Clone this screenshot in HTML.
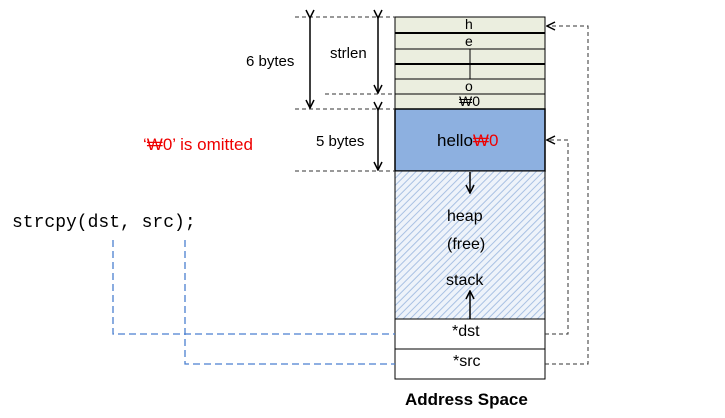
<html><head><style>
body{margin:0;width:725px;height:418px;background:#fff;font-family:"Liberation Sans","Noto Sans CJK KR",sans-serif;position:relative;overflow:hidden}
.t{position:absolute;white-space:nowrap}
</style></head><body>
<svg width="725" height="418" style="position:absolute;left:0;top:0">
<defs>
<pattern id="h" width="5" height="5" patternUnits="userSpaceOnUse" patternTransform="rotate(45)"><rect width="5" height="5" fill="#eef3fa"/><line x1="0" y1="0" x2="0" y2="5" stroke="#a9c1e3" stroke-width="2"/></pattern>
<marker id="a" markerWidth="10" markerHeight="10" refX="9" refY="5" orient="auto" markerUnits="userSpaceOnUse"><path d="M1,1 L9,5 L1,9" fill="none" stroke="#000" stroke-width="1.5"/></marker>
</defs>
<rect x="395" y="17" width="150" height="92" fill="#ebeedf" stroke="#000"/>
<g stroke="#000"><line x1="395" y1="33" x2="545" y2="33" stroke-width="2"/><line x1="395" y1="49" x2="545" y2="49"/><line x1="395" y1="64" x2="545" y2="64" stroke-width="2"/><line x1="395" y1="79" x2="545" y2="79"/><line x1="395" y1="94" x2="545" y2="94"/><line x1="470" y1="49" x2="470" y2="79"/></g>
<rect x="395" y="109" width="150" height="62" fill="#8db0e0" stroke="#000" stroke-width="1.5"/>
<rect x="395" y="171" width="150" height="148" fill="url(#h)" stroke="#000"/>
<rect x="395" y="319" width="150" height="30" fill="#fff" stroke="#000"/>
<rect x="395" y="349" width="150" height="30" fill="#fff" stroke="#000"/>
<g stroke="#000" stroke-width="1.5" marker-end="url(#a)"><line x1="470" y1="172" x2="470" y2="193"/><line x1="470" y1="319" x2="470" y2="291"/></g>
<g stroke="#333" stroke-dasharray="4,3" fill="none"><line x1="295" y1="17" x2="395" y2="17"/><line x1="325" y1="94" x2="395" y2="94"/><line x1="295" y1="109" x2="395" y2="109"/><line x1="295" y1="171" x2="395" y2="171"/>
<polyline points="545,334 568,334 568,140 547,140" marker-end="url(#a)"/><polyline points="545,364 588,364 588,26 547,26" marker-end="url(#a)"/></g>
<g stroke="#000" stroke-width="1.5" marker-start="url(#a)" marker-end="url(#a)"><line x1="310" y1="18" x2="310" y2="108"/><line x1="378" y1="18" x2="378" y2="93"/><line x1="378" y1="110" x2="378" y2="170"/></g>
<g stroke="#4a7fd0" stroke-width="1.3" stroke-dasharray="7,4" fill="none"><polyline points="113,240 113,334 395,334"/><polyline points="185,240 185,364 395,364"/></g>
</svg>
<div class="t" style="left:246px;top:53px;font-size:15px">6 bytes</div>
<div class="t" style="left:330px;top:45px;font-size:15px">strlen</div>
<div class="t" style="left:316px;top:133px;font-size:15px">5 bytes</div>
<div class="t" style="left:143px;top:135px;font-size:17px;color:#e00">‘₩0’ is omitted</div>
<div class="t" style="left:12px;top:213px;font-size:18px;font-family:'Liberation Mono',monospace">strcpy(dst, src);</div>
<div class="t" style="left:465px;top:16px;font-size:14px">h</div>
<div class="t" style="left:465px;top:33px;font-size:14px">e</div>
<div class="t" style="left:465px;top:78px;font-size:14px">o</div>
<div class="t" style="left:459px;top:93px;font-size:14px">₩0</div>
<div class="t" style="left:437px;top:131px;font-size:17px">hello<span style="color:#e00">₩0</span></div>
<div class="t" style="left:447px;top:208px;font-size:16px">heap</div>
<div class="t" style="left:447px;top:236px;font-size:16px">(free)</div>
<div class="t" style="left:446px;top:272px;font-size:16px">stack</div>
<div class="t" style="left:452px;top:323px;font-size:16px">*dst</div>
<div class="t" style="left:453px;top:353px;font-size:16px">*src</div>
<div class="t" style="left:405px;top:390px;font-size:17px;font-weight:bold">Address Space</div>
</body></html>
